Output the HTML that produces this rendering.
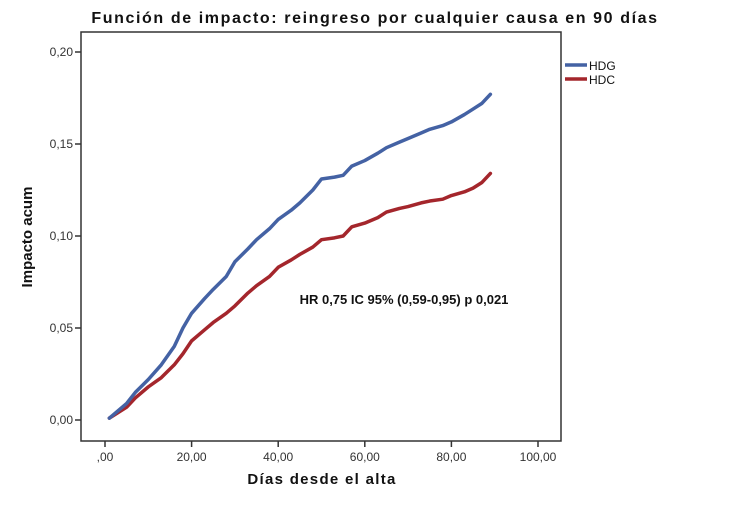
<!DOCTYPE html>
<html><head><meta charset="utf-8"><style>
body{margin:0;background:#fff;width:750px;height:500px;overflow:hidden}
svg{font-family:"Liberation Sans",sans-serif}
</style></head><body>
<svg id="c" width="750" height="500">
<text x="375" y="23" text-anchor="middle" font-size="16" font-weight="bold" letter-spacing="1.6" fill="#111">Función de impacto: reingreso por cualquier causa en 90 días</text>
<rect x="81" y="32" width="480" height="409" fill="none" stroke="#333" stroke-width="1.5"/>
<g id="axes"></g>
<g id="lines"></g>
<text x="404" y="304" text-anchor="middle" font-size="13" font-weight="bold" fill="#111">HR 0,75 IC 95% (0,59-0,95) p 0,021</text>
<text x="322" y="484" text-anchor="middle" font-size="15" font-weight="bold" letter-spacing="1.3" fill="#111">Días desde el alta</text>
<text transform="translate(32,237) rotate(-90)" text-anchor="middle" font-size="15" font-weight="bold" fill="#111">Impacto acum</text>
<g>
<line x1="565" y1="65" x2="587" y2="65" stroke="#4462a4" stroke-width="3.5"/>
<text x="589" y="70" font-size="12" fill="#111">HDG</text>
<line x1="565" y1="79" x2="587" y2="79" stroke="#a4262c" stroke-width="3.5"/>
<text x="589" y="84" font-size="12" fill="#111">HDC</text>
</g>
</svg>
<script>
const days=[1,3,5,7,10,13,16,18,20,23,25,28,30,33,35,38,40,43,45,48,50,53,55,57,60,63,65,68,70,73,75,78,80,83,85,87,89];
const hdg=[0.001,0.005,0.009,0.015,0.022,0.030,0.040,0.050,0.058,0.066,0.071,0.078,0.086,0.093,0.098,0.104,0.109,0.114,0.118,0.125,0.131,0.132,0.133,0.138,0.141,0.145,0.148,0.151,0.153,0.156,0.158,0.160,0.162,0.166,0.169,0.172,0.177];
const hdc=[0.001,0.004,0.007,0.012,0.018,0.023,0.030,0.036,0.043,0.049,0.053,0.058,0.062,0.069,0.073,0.078,0.083,0.087,0.090,0.094,0.098,0.099,0.100,0.105,0.107,0.110,0.113,0.115,0.116,0.118,0.119,0.120,0.122,0.124,0.126,0.129,0.134];
const xTicks=[0,20,40,60,80,100];
const xLabels=[",00","20,00","40,00","60,00","80,00","100,00"];
const yTicks=[0,0.05,0.10,0.15,0.20];
const yLabels=["0,00","0,05","0,10","0,15","0,20"];
const X=d=>105+d*4.33;
const Y=v=>420-v*1840;
const NS="http://www.w3.org/2000/svg";
const axes=document.getElementById('axes'),lines=document.getElementById('lines');
function mk(t,a,p){const e=document.createElementNS(NS,t);for(const k in a)e.setAttribute(k,a[k]);p.appendChild(e);return e;}
xTicks.forEach((t,i)=>{
const l=mk('line',{x1:X(t),x2:X(t),y1:441,y2:447,stroke:'#333','stroke-width':1.5},axes);


const s=mk('text',{x:X(t),y:461,'text-anchor':'middle','font-size':12,fill:'#333'},axes);s.textContent=xLabels[i];


});
yTicks.forEach((t,i)=>{
const l=mk('line',{x1:75,x2:81,y1:Y(t),y2:Y(t),stroke:'#333','stroke-width':1.5},axes);


const s=mk('text',{x:73,y:Y(t)+4,'text-anchor':'end','font-size':12,fill:'#333'},axes);s.textContent=yLabels[i];


});
function series(vals,color,name){
const p=mk('polyline',{points:days.map((d,i)=>X(d)+','+Y(vals[i])).join(' '),fill:'none',stroke:color,'stroke-width':3.5,'stroke-linejoin':'round','stroke-linecap':'round'},lines);


}
series(hdc,'#a4262c','line-hdc');
series(hdg,'#4462a4','line-hdg');
</script>
</body></html>
